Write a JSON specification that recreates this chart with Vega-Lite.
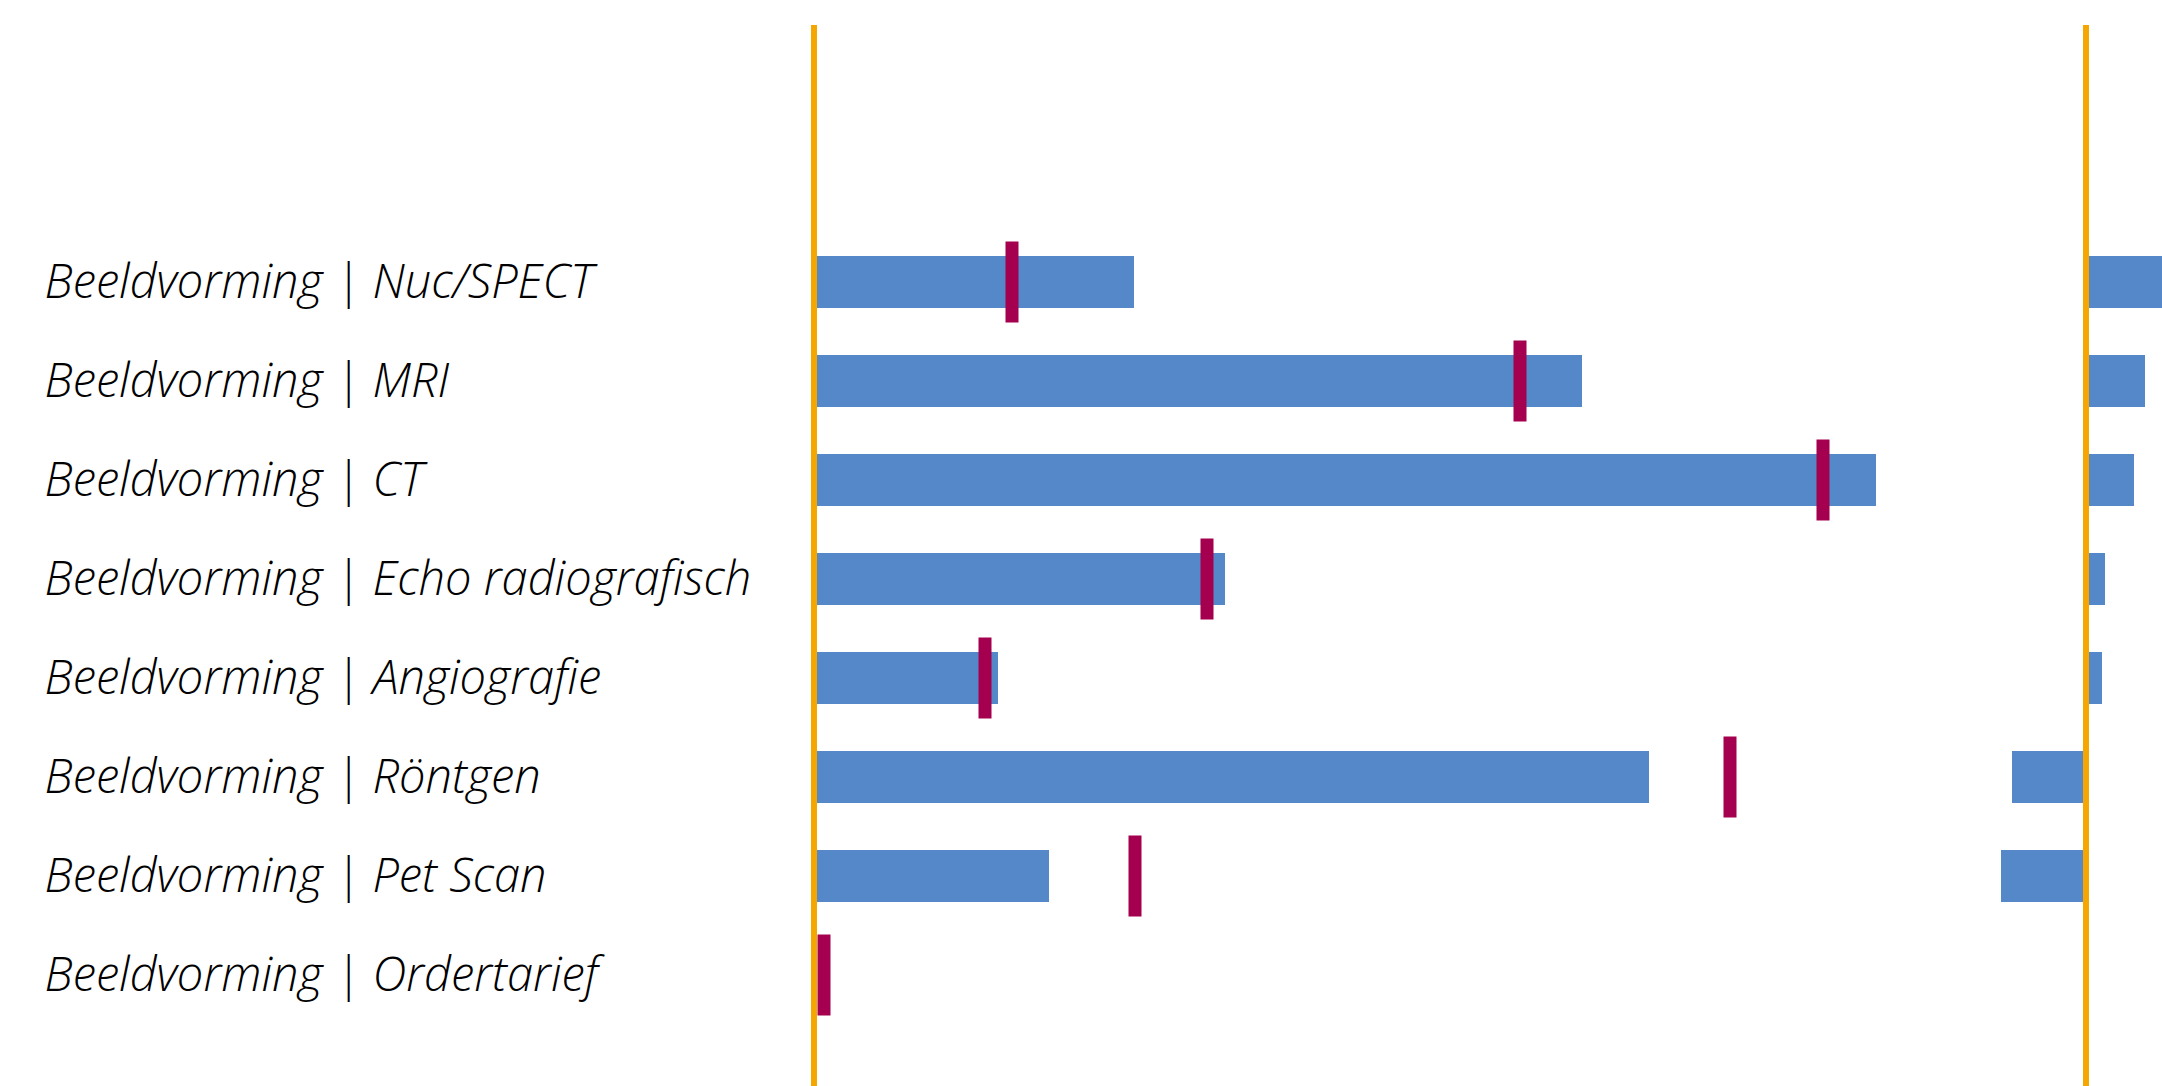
{
  "$schema": "https://vega.github.io/schema/vega-lite/v6.json",
  "background": "white",
  "padding": {"left": 44, "top": 22, "right": 0, "bottom": 0},
  "spacing": 0,
  "config": {"view": {"stroke": null}, "concat": {"spacing": 0}},
  "datasets": {
    "rows": [
      {"categorie": "Beeldvorming | Nuc/SPECT", "waarde": 320, "norm": 198, "verschil": 100},
      {"categorie": "Beeldvorming | MRI", "waarde": 768, "norm": 706, "verschil": 59},
      {"categorie": "Beeldvorming | CT", "waarde": 1062, "norm": 1009, "verschil": 48},
      {"categorie": "Beeldvorming | Echo radiografisch", "waarde": 411, "norm": 393, "verschil": 19},
      {"categorie": "Beeldvorming | Angiografie", "waarde": 184, "norm": 171, "verschil": 16},
      {"categorie": "Beeldvorming | Röntgen", "waarde": 835, "norm": 916, "verschil": -74},
      {"categorie": "Beeldvorming | Pet Scan", "waarde": 235, "norm": 321, "verschil": -85},
      {"categorie": "Beeldvorming | Ordertarief", "waarde": 0, "norm": 10, "verschil": 0}
    ],
    "nul": [{"x": 0}]
  },
  "hconcat": [
    {
      "width": 1166,
      "height": 1064,
      "layer": [
        {
          "data": {"name": "rows"},
          "mark": {"type": "bar", "color": "#5488C8", "size": 52},
          "encoding": {
            "y": {
              "field": "categorie", "type": "nominal", "sort": null, "title": null,
              "scale": {"paddingInner": 0, "paddingOuter": 0, "range": [207.5, 999.5]},
              "axis": {
                "domain": false, "ticks": false, "tickSize": 0, "grid": false,
                "labelAlign": "left", "labelPadding": 770, "labelLimit": 0,
                "labelFont": "Open Sans", "labelFontStyle": "italic", "labelFontWeight": 300,
                "labelFontSize": 47, "labelColor": "#000000", "labelOffset": 2
              }
            },
            "x": {"field": "waarde", "type": "quantitative", "scale": {"domain": [0, 1166], "nice": false, "zero": true}, "axis": null}
          }
        },
        {
          "data": {"name": "rows"},
          "mark": {"type": "tick", "color": "#A5004F", "size": 81, "thickness": 13, "opacity": 1},
          "encoding": {
            "y": {"field": "categorie", "type": "nominal", "sort": null},
            "x": {"field": "norm", "type": "quantitative"}
          }
        },
        {
          "data": {"name": "nul"},
          "mark": {"type": "rule", "color": "#F5A600", "strokeWidth": 6},
          "encoding": {"x": {"field": "x", "type": "quantitative"}}
        }
      ]
    },
    {
      "width": 182,
      "height": 1064,
      "layer": [
        {
          "data": {"name": "rows"},
          "mark": {"type": "bar", "color": "#5488C8", "size": 52, "clip": true},
          "encoding": {
            "y": {
              "field": "categorie", "type": "nominal", "sort": null, "title": null,
              "scale": {"paddingInner": 0, "paddingOuter": 0, "range": [207.5, 999.5]},
              "axis": null
            },
            "x": {"field": "verschil", "type": "quantitative", "scale": {"domain": [-106, 76], "nice": false, "zero": false}, "axis": null}
          }
        },
        {
          "data": {"name": "nul"},
          "mark": {"type": "rule", "color": "#F5A600", "strokeWidth": 6},
          "encoding": {"x": {"field": "x", "type": "quantitative"}}
        }
      ]
    }
  ]
}
